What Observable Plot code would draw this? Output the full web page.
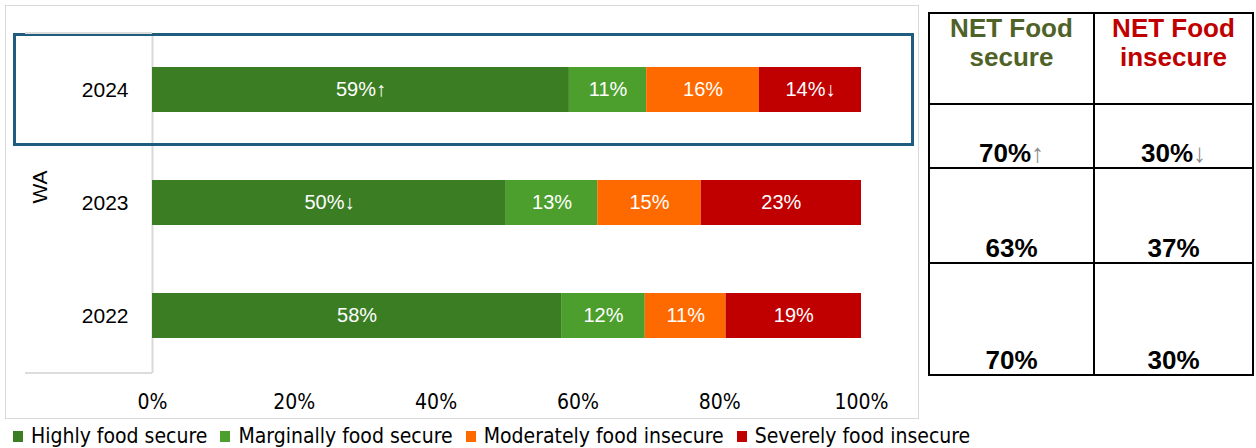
<!DOCTYPE html>
<html>
<head>
<meta charset="utf-8">
<script src="https://cdn.jsdelivr.net/npm/d3@7"></script>
<script src="https://cdn.jsdelivr.net/npm/@observablehq/plot@0.6"></script>
<style>
  html, body { margin: 0; padding: 0; background: #fff; }
  body { width: 1256px; height: 448px; position: relative; overflow: hidden; font-family: "Liberation Sans", Arial, sans-serif; }
  #frame { position: absolute; left: 5px; top: 5px; width: 914px; height: 414px; border: 1px solid #d9d9d9; box-sizing: border-box; }
  #chart { position: absolute; left: 0; top: 0; }
  .hline { position: absolute; height: 0; border-top: 2px solid #dcdcdc; }
  #highlight { position: absolute; border: 3px solid #1F5C7E; box-sizing: border-box; }
  #legend { position: absolute; left: 13px; top: 424px; display: flex; align-items: center; font-family: "Liberation Sans Narrow", "DejaVu Sans Condensed", sans-serif; font-size: 21px; color: #000; white-space: nowrap; }
  #legend .item { display: flex; align-items: center; margin-right: 13px; }
  #legend .sw { width: 10px; height: 11px; margin-right: 8px; }
  #net { position: absolute; left: 928px; top: 12px; width: 324px; height: 363px; border-collapse: collapse; table-layout: fixed; }
  #net td { border: 2px solid #000; text-align: center; padding: 0; font-weight: bold; font-size: 26px; }
  #net tr.head td { vertical-align: top; line-height: 29px; padding-top: 0px; }
  #net tr.val td { vertical-align: bottom; line-height: 26px; padding-bottom: 1px; }
  .arr { font-weight: normal; color: #8c8c8c; }
</style>
</head>
<body>
<div id="frame"></div>
<div id="chart"></div>
<div id="highlight"></div>
<div id="legend"></div>
<table id="net"></table>
<script>
// ---- data ----
const group = "WA";
const years = ["2024", "2023", "2022"];
const categories = ["Highly food secure", "Marginally food secure", "Moderately food insecure", "Severely food insecure"];
const colors = ["#3B7D23", "#4C9F2D", "#FF6A00", "#C00000"];
const highly   = [58.8, 49.9, 57.7];
const marginal = [10.9, 12.9, 11.8];
const moderate = [15.9, 14.6, 11.4];
const severe   = [14.4, 22.6, 19.1];
const highlyArrow = ["↑", "↓", ""];
const severeArrow = ["↓", "", ""];
const xTicks = [0, 20, 40, 60, 80, 100];
const netHeaders = [["NET Food", "secure"], ["NET Food", "insecure"]];
const netHeaderColors = ["#4F6228", "#C00000"];
const netSecure = [70, 63, 70];
const netInsecure = [30, 37, 30];
const netSecureArrow = ["↑", "", ""];
const netInsecureArrow = ["↓", "", ""];

// ---- build table for Plot ----
const series = [highly, marginal, moderate, severe];
const arrows = [highlyArrow, ["", "", ""], ["", "", ""], severeArrow];
const rows = [];
years.forEach((yr, i) => {
  categories.forEach((c, j) => {
    const v = series[j][i];
    rows.push({year: yr, cat: c, value: v, label: Math.round(v) + "%" + arrows[j][i]});
  });
});

const narrow = "'Liberation Sans Narrow', 'DejaVu Sans Condensed', sans-serif";

const plot = Plot.plot({
  width: 920,
  height: 420,
  marginLeft: 152,
  marginRight: 59,
  marginTop: 33,
  marginBottom: 47,
  style: {fontFamily: "'Liberation Sans', Arial, sans-serif", fontSize: "20px", background: "transparent", overflow: "visible"},
  x: {domain: [0, 100]},
  y: {domain: years, paddingInner: 0.6, paddingOuter: 0.3},
  color: {domain: categories, range: colors},
  marks: [
    Plot.ruleX([0], {stroke: "#d9d9d9", strokeWidth: 2}),
    Plot.barX(rows, Plot.stackX({x: "value", y: "year", fill: "cat", order: categories})),
    Plot.text(rows, Plot.stackX({x: "value", y: "year", z: "cat", order: categories, text: "label", fill: "white", fontSize: 20})),
    Plot.axisX({ticks: xTicks, tickFormat: d => d + "%", tickSize: 0, tickPadding: 21, fontSize: 21, fontFamily: narrow, label: null, fill: "#000"}),
    Plot.axisY({tickSize: 0, tickPadding: 24, fontSize: 21, label: null, fill: "#000"}),
    Plot.text([group], {frameAnchor: "left", dx: -112, rotate: -90, fontSize: 21, text: d => d, fill: "#000"})
  ]
});
document.getElementById("chart").appendChild(plot);

// decorative group bracket + highlight derived from scales
const ys = plot.scale("y");
const xs = plot.scale("x");
const x0 = xs.apply(0);
const [yTop, yBot] = ys.range;
for (const yy of [yTop, yBot]) {
  const d = document.createElement("div");
  d.className = "hline";
  d.style.left = "25px";
  d.style.width = (x0 - 25) + "px";
  d.style.top = (yy - 1) + "px";
  document.body.appendChild(d);
}
const step = ys.step, bw = ys.bandwidth;
const c24 = ys.apply(years[0]) + bw / 2;
const hl = document.getElementById("highlight");
hl.style.left = "13px";
hl.style.width = (914 - 13) + "px";
hl.style.top = (c24 - step / 2) + "px";
hl.style.height = step + "px";

// legend
const lg = document.getElementById("legend");
categories.forEach((c, i) => {
  const it = document.createElement("div");
  it.className = "item";
  it.innerHTML = `<span class="sw" style="background:${colors[i]}"></span><span>${c}</span>`;
  lg.appendChild(it);
});

// NET table
const tbl = document.getElementById("net");
const rowHeights = [91, 64, 95, 112];
let html = `<colgroup><col style="width:165px"><col style="width:159px"></colgroup>`;
html += `<tr class="head" style="height:${rowHeights[0]}px">` + netHeaders.map((h, i) =>
  `<td style="color:${netHeaderColors[i]}">${h.join("<br>")}</td>`).join("") + `</tr>`;
years.forEach((yr, i) => {
  html += `<tr class="val" style="height:${rowHeights[i + 1]}px">` +
    `<td>${netSecure[i]}%<span class="arr">${netSecureArrow[i]}</span></td>` +
    `<td>${netInsecure[i]}%<span class="arr">${netInsecureArrow[i]}</span></td></tr>`;
});
tbl.innerHTML = html;
</script>
</body>
</html>
